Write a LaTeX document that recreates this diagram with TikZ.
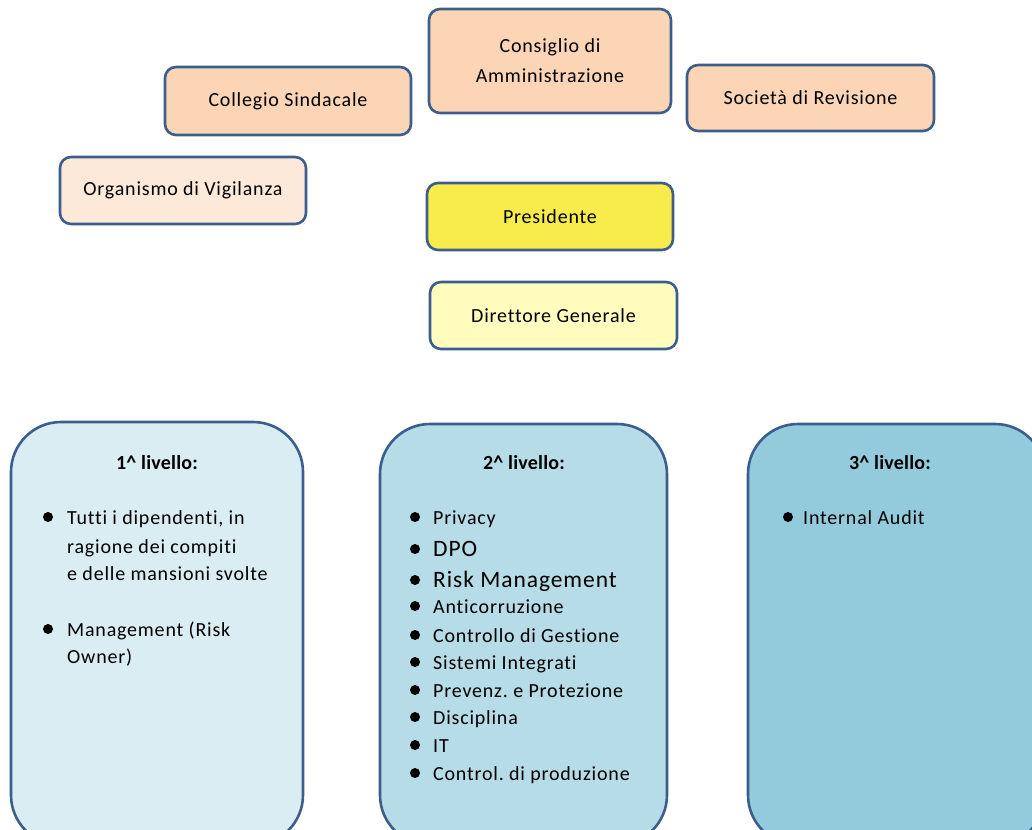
\documentclass[tikz,border=0pt]{standalone}
\usepackage{fontspec}
\setmainfont{Carlito}[LetterSpace=4, Ligatures=NoCommon]
\newfontfamily\headfont{Carlito}[LetterSpace=1, Ligatures=NoCommon]
\begin{document}
\definecolor{edge}{HTML}{3B5E8C}
\definecolor{peach}{HTML}{FBD5B5}
\definecolor{peachlight}{HTML}{FDE9D9}
\definecolor{gold}{HTML}{F7EC4B}
\definecolor{cream}{HTML}{FFFCBE}
\definecolor{lvA}{HTML}{DAEDF3}
\definecolor{lvB}{HTML}{B6DCE7}
\definecolor{lvC}{HTML}{93CBDC}
\begin{tikzpicture}[x=1pt,y=-1pt,
  organ/.style={draw=edge, line width=2.6pt, rounded corners=11pt, inner sep=0pt,
    align=center, font=\fontsize{20}{30}\selectfont},
  levelbox/.style={draw=edge, line width=2.6pt, rounded corners=50pt, inner sep=0pt},
  head/.style={anchor=base, font=\headfont\fontsize{20}{22}\selectfont\bfseries, inner sep=0pt},
  item/.style={anchor=base west, font=\fontsize{20}{22}\selectfont, inner sep=0pt},
  bigitem/.style={anchor=base west, font=\fontsize{23.5}{26}\selectfont, inner sep=0pt},
  dot/.style={circle, fill=black, inner sep=0pt, minimum size=10pt, yshift=7pt}]
\useasboundingbox (0,0) rectangle (1032,829);
\clip (0,0) rectangle (1032,829);

% governance bodies
\node[organ, fill=peach, minimum width=242pt, minimum height=104pt] (cda) at (550,61) {Consiglio di\\Amministrazione};
\node[organ, fill=peach, minimum width=246pt, minimum height=68pt] (cs) at (288,101) {Collegio Sindacale};
\node[organ, fill=peach, minimum width=247pt, minimum height=66pt] (rev) at (810.5,98) {Società di Revisione};
\node[organ, fill=peachlight, minimum width=246pt, minimum height=67pt] (odv) at (183,190.5) {Organismo di Vigilanza};
\node[organ, fill=gold, minimum width=246pt, minimum height=67pt] (pres) at (550,216.5) {Presidente};
\node[organ, fill=cream, minimum width=247pt, minimum height=67pt] (dg) at (553.5,315.5) {Direttore Generale};

% three lines of control
\node[levelbox, fill=lvA, minimum width=292pt, minimum height=423pt] (l1) at (157,633.5) {};
\node[levelbox, fill=lvB, minimum width=287pt, minimum height=421pt] (l2) at (523.5,634.5) {};
\node[levelbox, fill=lvC, minimum width=297pt, minimum height=421pt] (l3) at (896.5,634.5) {};

% first level
\node[head] (h1) at (157,469) {1\textasciicircum{} livello:};
\node[dot] (b1a) at (48,524) {};
\node[item] (t1a) at (67,524) {Tutti i dipendenti, in};
\node[item] (t1b) at (67,553) {ragione dei compiti};
\node[item] (t1c) at (67,580) {e delle mansioni svolte};
\node[dot] (b1b) at (48,636) {};
\node[item] (t1d) at (67,636) {Management (Risk};
\node[item] (t1e) at (67,663) {Owner)};

% second level
\node[head] (h2) at (524,469) {2\textasciicircum{} livello:};
\foreach \y/\txt [count=\i] in {524/Privacy, 613/Anticorruzione, 642/Controllo di Gestione,
    669/Sistemi Integrati, 697/Prevenz.\ e Protezione, 724/Disciplina, 752/IT,
    780/Control.\ di produzione}{
  \node[dot] (b2\i) at (415,\y) {};
  \node[item] (t2\i) at (433,\y) {\txt};
}
\node[dot] (b2dpo) at (415,556) {};
\node[bigitem] (t2dpo) at (433,556) {DPO};
\node[dot] (b2risk) at (415,587) {};
\node[bigitem] (t2risk) at (433,587) {Risk Management};

% third level
\node[head] (h3) at (890,469) {3\textasciicircum{} livello:};
\node[dot] (b3a) at (788,524) {};
\node[item] (t3a) at (803,524) {Internal Audit};
\end{tikzpicture}
\end{document}
